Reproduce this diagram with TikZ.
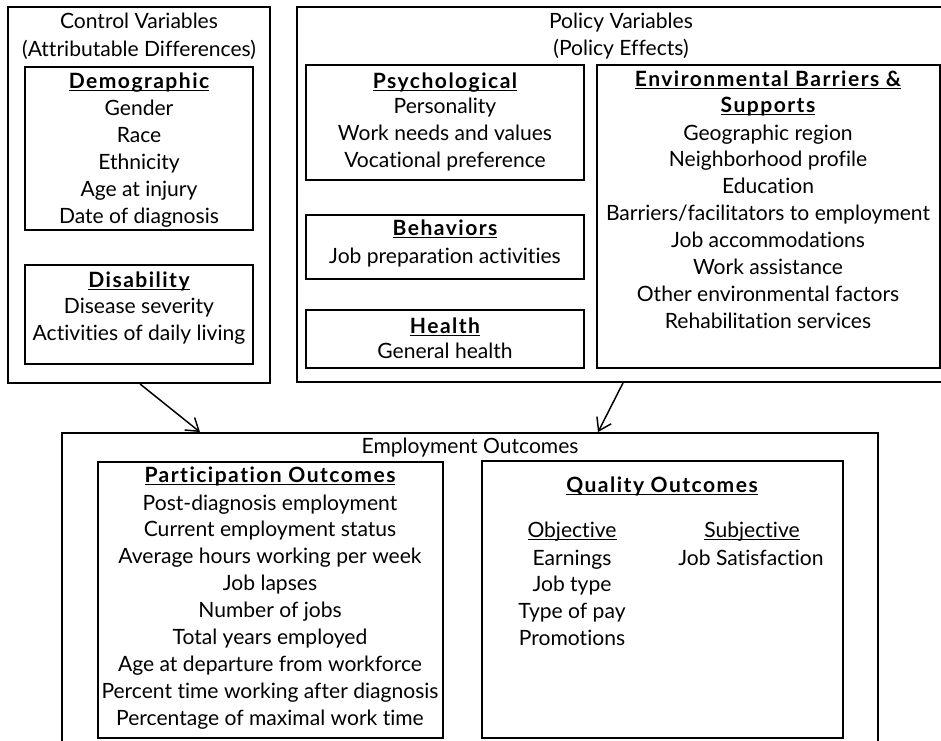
\documentclass[tikz,border=0pt]{standalone}
\usepackage{fontspec}
\setmainfont{Lato}[Ligatures={NoCommon}]
\newfontfamily\hdfont{Lato}[LetterSpace=7.0,Ligatures={NoCommon}]
\usetikzlibrary{arrows.meta,fit}

% bold heading with a line just under the baseline
\newcommand\hd[1]{\setbox0\hbox{\hdfont\bfseries #1}\rlap{\rule[-2.6pt]{\wd0}{1.1pt}}\box0}
% plain underlined sub-heading
\newcommand\uh[1]{\setbox0\hbox{#1}\rlap{\rule[-2.6pt]{\wd0}{0.8pt}}\box0}
% a centred column of lines, each on its own baseline
\newcommand\stack[5]{%
  \foreach \t [count=\i] in {#5} {
    \node[txt] (#1-\i) at (#2,{#3+(\i-1)*#4}) {\t};
  }}

\begin{document}
\begin{tikzpicture}[x=0.75pt,y=-0.75pt,
  box/.style={draw,line width=1.4pt,inner sep=0pt},
  txt/.style={anchor=base,inner sep=0pt,font=\fontsize{15.8}{18}\selectfont},
  link/.style={line width=1.1pt,-{Straight Barb[length=9pt,width=12pt,line width=1.1pt]}}]
\useasboundingbox (0,0) rectangle (941,740);
\clip (0,0) rectangle (941,740);

% ---- control variables ----
\node[box,fit={(8,7) (270,383)}] (ctrl) {};
\stack{ctrltitle}{139}{28}{28}{Control Variables,(Attributable Differences)}
\node[box,fit={(25,67) (253,230)}] (demo) {};
\node[txt] (demohd) at (139,88) {\hd{Demographic}};
\stack{demo}{139}{115}{27}{Gender,Race,Ethnicity,Age at injury,Date of diagnosis}
\node[box,fit={(25,265) (253,364)}] (dis) {};
\node[txt] (dishd) at (139,287) {\hd{Disability}};
\stack{dis}{139}{313}{27.5}{Disease severity,Activities of daily living}

% ---- policy variables ----
\node[box,fit={(297,7) (960,382)}] (pol) {};
\stack{poltitle}{621}{28}{27}{Policy Variables,(Policy Effects)}
\node[box,fit={(306,65) (584,180)}] (psy) {};
\node[txt] (psyhd) at (445,88) {\hd{Psychological}};
\stack{psy}{445}{113}{27}{Personality,Work needs and values,Vocational preference}
\node[box,fit={(306,215) (584,279)}] (beh) {};
\node[txt] (behhd) at (445,235) {\hd{Behaviors}};
\node[txt] (beh-1) at (445,263) {Job preparation activities};
\node[box,fit={(306,310) (584,368)}] (hea) {};
\node[txt] (heahd) at (445,333) {\hd{Health}};
\node[txt] (hea-1) at (445,358) {General health};
\node[box,fit={(597,65) (940,368)}] (env) {};
\node[txt] (envhd1) at (768,86) {\hd{Environmental Barriers \&}};
\node[txt] (envhd2) at (768,112) {\hd{Supports}};
\stack{env}{768}{140}{26.9}{Geographic region,Neighborhood profile,Education,Barriers/facilitators to employment,Job accommodations,Work assistance,Other environmental factors,Rehabilitation services}

% ---- employment outcomes ----
\node[box,fit={(62,433) (878,770)}] (emp) {};
\node[txt] (emptitle) at (470,453) {Employment Outcomes};
\node[box,fit={(98,462) (443,738)}] (par) {};
\node[txt] (parhd) at (270,482) {\hd{Participation Outcomes}};
\stack{par}{270}{510}{26.9}{Post-diagnosis employment,Current employment status,Average hours working per week,Job lapses,Number of jobs,Total years employed,Age at departure from workforce,Percent time working after diagnosis,Percentage of maximal work time}
\node[box,fit={(482,461) (843,738)}] (qual) {};
\node[txt] (qualhd) at (662,492) {\hd{Quality Outcomes}};
\node[txt] (objhd) at (572,537) {\uh{Objective}};
\stack{obj}{572}{565}{26.7}{Earnings,Job type,Type of pay,Promotions}
\node[txt] (subhd) at (752,537) {\uh{Subjective}};
\node[txt] (sub-1) at (751,565) {Job Satisfaction};

% ---- influences ----
\draw[link] (ctrl.south -| 140,0) -- (emp.north -| 200,0);
\draw[link] (pol.south -| 623,0) -- (emp.north -| 598,0);
\end{tikzpicture}
\end{document}
